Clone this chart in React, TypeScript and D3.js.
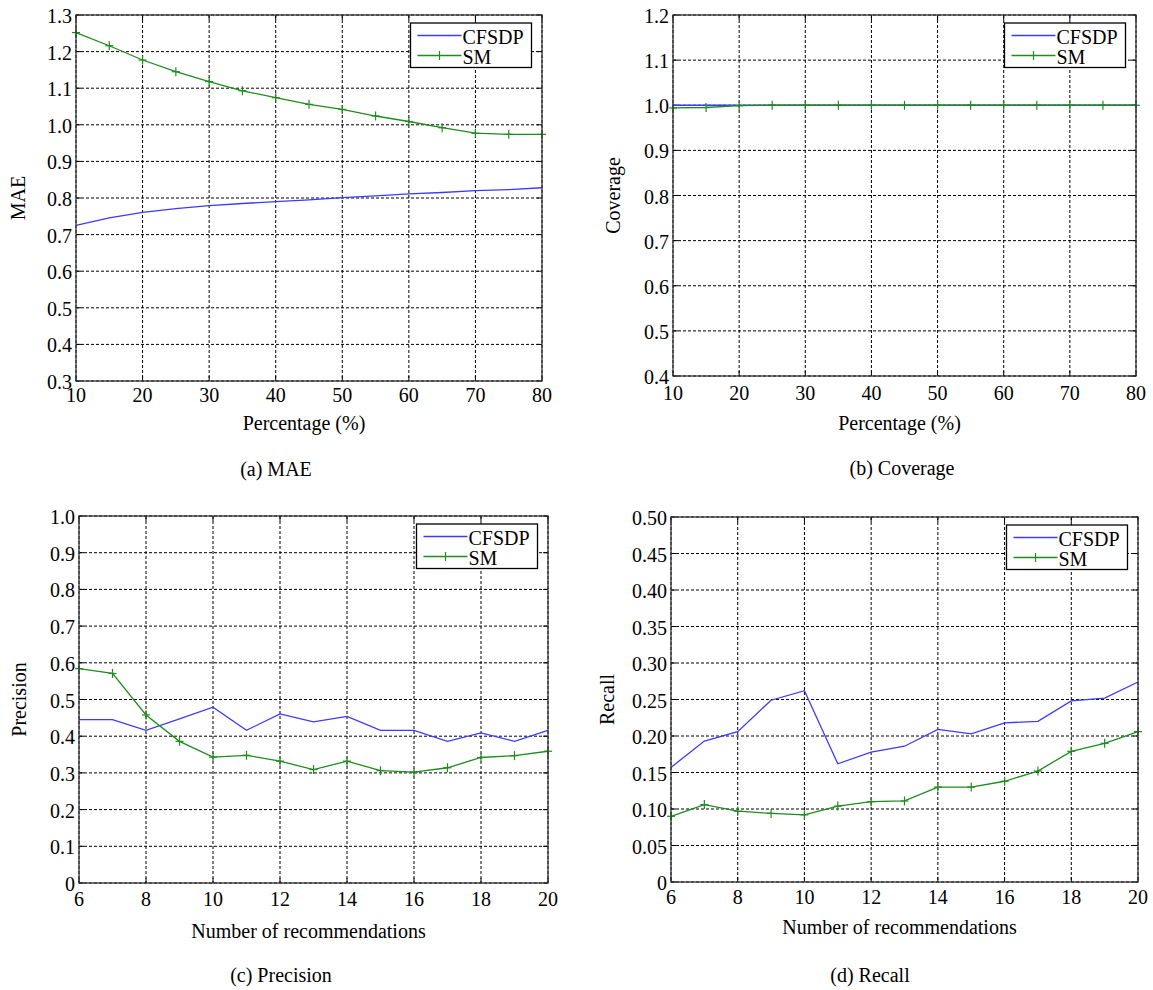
import React from 'react';
import * as d3 from 'd3';

// x values
const pctX = [10, 15, 20, 25, 30, 35, 40, 45, 50, 55, 60, 65, 70, 75, 80];
const recX = [6, 7, 8, 9, 10, 11, 12, 13, 14, 15, 16, 17, 18, 19, 20];

// (a) MAE
const maeCFSDP = [0.725, 0.746, 0.761, 0.771, 0.779, 0.785, 0.790, 0.795, 0.801, 0.806, 0.811, 0.815, 0.820, 0.823, 0.828];
const maeSM = [1.252, 1.216, 1.177, 1.145, 1.118, 1.093, 1.074, 1.056, 1.042, 1.024, 1.009, 0.992, 0.977, 0.974, 0.974];

// (b) Coverage
const covCFSDP = [1.0, 1.0, 1.0, 1.0, 1.0, 1.0, 1.0, 1.0, 1.0, 1.0, 1.0, 1.0, 1.0, 1.0, 1.0];
const covSM = [0.994, 0.995, 0.999, 1.0, 1.0, 1.0, 1.0, 1.0, 1.0, 1.0, 1.0, 1.0, 1.0, 1.0, 1.0];

// (c) Precision
const precCFSDP = [0.445, 0.445, 0.416, 0.447, 0.479, 0.416, 0.461, 0.439, 0.454, 0.416, 0.416, 0.386, 0.409, 0.386, 0.416];
const precSM = [0.584, 0.571, 0.458, 0.386, 0.343, 0.348, 0.332, 0.309, 0.332, 0.306, 0.302, 0.314, 0.342, 0.347, 0.359];

// (d) Recall
const recallCFSDP = [0.157, 0.193, 0.206, 0.249, 0.262, 0.162, 0.178, 0.186, 0.209, 0.203, 0.218, 0.220, 0.248, 0.252, 0.274];
const recallSM = [0.090, 0.106, 0.097, 0.094, 0.092, 0.104, 0.110, 0.111, 0.130, 0.130, 0.138, 0.152, 0.179, 0.190, 0.206];

// tick values
const pctTicks = [10, 20, 30, 40, 50, 60, 70, 80];
const recTicks = [6, 8, 10, 12, 14, 16, 18, 20];
const maeTicks = [0.3, 0.4, 0.5, 0.6, 0.7, 0.8, 0.9, 1.0, 1.1, 1.2, 1.3];
const covTicks = [0.4, 0.5, 0.6, 0.7, 0.8, 0.9, 1.0, 1.1, 1.2];
const precTicks = [0, 0.1, 0.2, 0.3, 0.4, 0.5, 0.6, 0.7, 0.8, 0.9, 1.0];
const recallTicks = [0, 0.05, 0.1, 0.15, 0.2, 0.25, 0.3, 0.35, 0.4, 0.45, 0.5];

const seriesNames = ['CFSDP', 'SM'];

const BLUE = '#3b3bff';
const GREEN = '#1e8c1e';
const FONT = 'Liberation Serif';
const FS = 20;

function Panel(props) {
  const { box, xs, xTicks, yTicks, yDomain, yDec, blue, green, xLabel, yLabel, yLabelX, caption, capX, tickY, xLabY, capY } = props;
  const x = d3.scaleLinear().domain(d3.extent(xTicks)).range([box.left, box.right]);
  const y = d3.scaleLinear().domain(yDomain).range([box.bottom, box.top]);
  const line = d3.line().x(d => x(d[0])).y(d => y(d[1]));
  const fmt = v => (v === 0 ? '0' : v.toFixed(yDec));
  const bluePts = xs.map((v, i) => [v, blue[i]]);
  const greenPts = xs.map((v, i) => [v, green[i]]);
  const tl = 5;
  const lg = { right: box.right - 10.5, top: box.top + 8, w: 121, h: 44.5 };
  const lgL = lg.right - lg.w;
  const midX = (box.left + box.right) / 2;
  const midY = (box.top + box.bottom) / 2;
  return (
    <g style={{ fontFamily: FONT }} fontSize={FS} fill="#000">
      <rect x={box.left} y={box.top} width={box.right - box.left} height={box.bottom - box.top} fill="#fff" />
      {/* grid */}
      {xTicks.map(t => (
        <line key={'gx' + t} x1={x(t)} x2={x(t)} y1={box.top} y2={box.bottom} stroke="#000" strokeWidth={1} strokeDasharray="3,2" />
      ))}
      {yTicks.map(t => (
        <line key={'gy' + t} x1={box.left} x2={box.right} y1={y(t)} y2={y(t)} stroke="#000" strokeWidth={1} strokeDasharray="3,2" />
      ))}
      {/* inner ticks */}
      {xTicks.map(t => (
        <g key={'tx' + t} stroke="#000">
          <line x1={x(t)} x2={x(t)} y1={box.bottom} y2={box.bottom - tl} />
          <line x1={x(t)} x2={x(t)} y1={box.top} y2={box.top + tl} />
        </g>
      ))}
      {yTicks.map(t => (
        <g key={'ty' + t} stroke="#000">
          <line x1={box.left} x2={box.left + tl} y1={y(t)} y2={y(t)} />
          <line x1={box.right} x2={box.right - tl} y1={y(t)} y2={y(t)} />
        </g>
      ))}
      {/* lines */}
      <path d={line(bluePts)} fill="none" stroke={BLUE} strokeWidth={1.3} />
      <path d={line(greenPts)} fill="none" stroke={GREEN} strokeWidth={1.3} />
      {greenPts.map((p, i) => (
        <g key={'m' + i} stroke={GREEN} strokeWidth={1.2}>
          <line x1={x(p[0]) - 4} x2={x(p[0]) + 4} y1={y(p[1])} y2={y(p[1])} />
          <line x1={x(p[0])} x2={x(p[0])} y1={y(p[1]) - 4.5} y2={y(p[1]) + 4.5} />
        </g>
      ))}
      <rect x={box.left} y={box.top} width={box.right - box.left} height={box.bottom - box.top} fill="none" stroke="#333" strokeWidth={1.3} />
      {/* tick labels */}
      {xTicks.map(t => (
        <text key={'lx' + t} x={x(t)} y={tickY} textAnchor="middle" dominantBaseline="central">{t}</text>
      ))}
      {yTicks.map(t => (
        <text key={'ly' + t} x={box.left - 4} y={y(t) + 1} textAnchor="end" dominantBaseline="central">{fmt(t)}</text>
      ))}
      {/* axis labels */}
      <text x={midX - 5} y={xLabY} textAnchor="middle" dominantBaseline="central">{xLabel}</text>
      <text transform={`translate(${yLabelX},${midY}) rotate(-90)`} textAnchor="middle" dominantBaseline="central">{yLabel}</text>
      <text x={capX} y={capY} textAnchor="middle" dominantBaseline="central">{caption}</text>
      {/* legend */}
      <rect x={lgL} y={lg.top} width={lg.w} height={lg.h} fill="#fff" stroke="#000" strokeWidth={1.3} />
      {seriesNames.map((name, i) => {
        const ly = lg.top + 12.5 + i * 20;
        const col = i === 0 ? BLUE : GREEN;
        return (
          <g key={name}>
            <line x1={lgL + 7} x2={lgL + 51} y1={ly} y2={ly} stroke={col} strokeWidth={1.3} />
            {i === 1 && <line x1={lgL + 29} x2={lgL + 29} y1={ly - 4.5} y2={ly + 4.5} stroke={col} strokeWidth={1.2} />}
            <text x={lgL + 52} y={ly + 1} dominantBaseline="central">{name}</text>
          </g>
        );
      })}
    </g>
  );
}

export default function App() {
  return (
    <svg width={1153} height={990} style={{ position: 'absolute', left: 0, top: 0, background: '#fff' }}>
      <rect width={1153} height={990} fill="#fff" />
      <Panel
        box={{ left: 76, right: 542, top: 15, bottom: 381 }}
        xs={pctX} xTicks={pctTicks} yTicks={maeTicks} yDomain={[0.3, 1.3]} yDec={1}
        blue={maeCFSDP} green={maeSM}
        xLabel="Percentage (%)" yLabel="MAE" yLabelX={18}
        caption="(a) MAE" capX={276} tickY={395} xLabY={423} capY={469}
      />
      <Panel
        box={{ left: 673, right: 1136, top: 15, bottom: 376 }}
        xs={pctX} xTicks={pctTicks} yTicks={covTicks} yDomain={[0.4, 1.2]} yDec={1}
        blue={covCFSDP} green={covSM}
        xLabel="Percentage (%)" yLabel="Coverage" yLabelX={613}
        caption="(b) Coverage" capX={902} tickY={393} xLabY={423} capY={468}
      />
      <Panel
        box={{ left: 79, right: 548, top: 516, bottom: 883 }}
        xs={recX} xTicks={recTicks} yTicks={precTicks} yDomain={[0, 1.0]} yDec={1}
        blue={precCFSDP} green={precSM}
        xLabel="Number of recommendations" yLabel="Precision" yLabelX={19}
        caption="(c) Precision" capX={281} tickY={899} xLabY={931} capY={975}
      />
      <Panel
        box={{ left: 671, right: 1138, top: 517, bottom: 882 }}
        xs={recX} xTicks={recTicks} yTicks={recallTicks} yDomain={[0, 0.5]} yDec={2}
        blue={recallCFSDP} green={recallSM}
        xLabel="Number of recommendations" yLabel="Recall" yLabelX={607}
        caption="(d) Recall" capX={870} tickY={897} xLabY={927} capY={975}
      />
    </svg>
  );
}
